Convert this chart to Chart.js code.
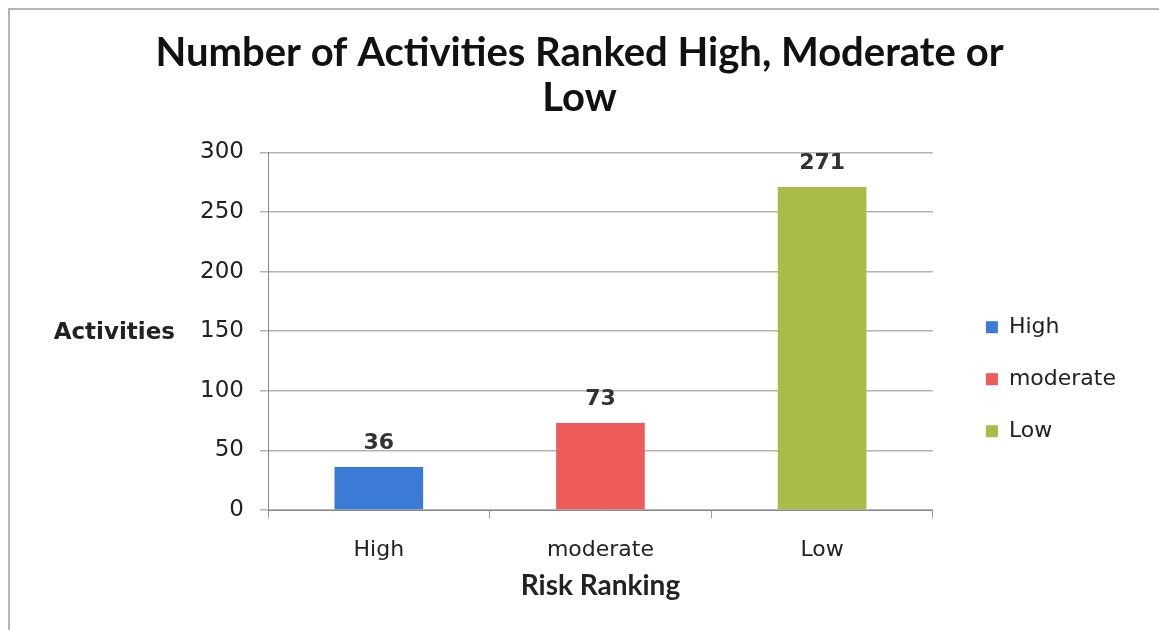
<!DOCTYPE html>
<html>
<head>
<meta charset="utf-8">
<script src="https://cdn.jsdelivr.net/npm/chart.js@4.4.0/dist/chart.umd.min.js"></script>
<style>
  html, body { margin: 0; padding: 0; background: #fff; }
  #wrap { position: relative; width: 1159px; height: 630px; }
  #frame { position: absolute; left: 8px; top: 8px; width: 1160px; height: 640px;
           border-left: 2px solid #b5b5b5; border-top: 2px solid #b5b5b5; pointer-events: none; }
</style>
</head>
<body>
<div id="wrap">
  <canvas id="riskChart" width="1159" height="630"></canvas>
  <div id="frame"></div>
</div>
<script>
// values
const categories = ['High', 'moderate', 'Low'];
const activities = [36, 73, 271];
const barColors = ['#3b7bd6', '#ee5b5b', '#abbb47'];
const yTicks = [0, 50, 100, 150, 200, 250, 300];

// "Activities" is written level, left of the tick numbers
const yLabel = {
  id: 'yLabel',
  afterDraw(chart) {
    const ctx = chart.ctx, area = chart.chartArea;
    ctx.save();
    ctx.font = 'bold 23px "DejaVu Sans"';
    ctx.fillStyle = '#222';
    ctx.textAlign = 'right';
    ctx.textBaseline = 'middle';
    ctx.fillText('Activities', 175, (area.top + area.bottom) / 2 + 2);
    ctx.restore();
  }
};

// number over each bar
const barValues = {
  id: 'barValues',
  afterDatasetsDraw(chart) {
    const ctx = chart.ctx;
    const meta = chart.getDatasetMeta(0);
    ctx.save();
    ctx.font = 'bold 22px "DejaVu Sans"';
    ctx.fillStyle = '#333';
    ctx.textAlign = 'center';
    ctx.textBaseline = 'middle';
    meta.data.forEach((bar, i) => {
      ctx.fillText(String(activities[i]), bar.x, bar.y - 24);
    });
    ctx.restore();
  }
};

// empty side axes, used only as spacers around the legend
const spacer = (w, weight) => ({
  position: 'right',
  display: true,
  weight: weight,
  afterFit(scale) { scale.width = w; },
  grid: { display: false },
  border: { display: false },
  ticks: { display: false }
});

const ctx = document.getElementById('riskChart').getContext('2d');
new Chart(ctx, {
  type: 'bar',
  data: {
    labels: categories,
    datasets: [{
      label: 'Activities',
      data: activities,
      backgroundColor: barColors,
      categoryPercentage: 0.8,
      barPercentage: 0.5
    }]
  },
  options: {
    responsive: false,
    animation: false,
    layout: { padding: { left: 0, right: 0, top: 0, bottom: 24 } },
    plugins: {
      title: {
        display: true,
        text: ['Number of Activities Ranked High, Moderate or', 'Low'],
        font: { family: 'Lato', size: 40, weight: 'bold', lineHeight: 1.13 },
        color: '#111',
        padding: { top: 30, bottom: 32 }
      },
      legend: {
        position: 'right',
        maxWidth: 220,
        onClick: null,
        title: { display: true, text: '', font: { size: 12, lineHeight: 1.2 }, padding: { top: 138, bottom: 0 } },
        labels: {
          boxWidth: 12,
          boxHeight: 12,
          padding: 30,
          color: '#222',
          font: { family: 'DejaVu Sans', size: 22 },
          generateLabels: () => categories.map((c, i) => ({
            text: c, fillStyle: barColors[i], strokeStyle: barColors[i], fontColor: '#222', lineWidth: 0, index: i
          }))
        }
      },
      tooltip: { enabled: false }
    },
    scales: {
      x: {
        afterFit(scale) { scale.height = 96; },
        grid: { display: true, drawOnChartArea: false, tickLength: 8, color: '#999', offset: true },
        border: { color: '#888' },
        ticks: { color: '#222', padding: 19, font: { family: 'DejaVu Sans', size: 22 } },
        title: {
          display: true,
          text: 'Risk Ranking',
          color: '#222',
          font: { family: 'Lato', size: 28, weight: 'bold' },
          padding: { top: 4, bottom: 3 }
        }
      },
      y: {
        min: 0,
        max: 300,
        afterFit(scale) { scale.width = 268; },
        afterBuildTicks(scale) { scale.ticks = yTicks.map(v => ({ value: v })); },
        grid: { color: '#b4b4b4', tickLength: 8, lineWidth: 1.5 },
        border: { color: '#888' },
        ticks: { color: '#222', padding: 16, font: { family: 'DejaVu Sans', size: 23 } }
      },
      gapInner: spacer(23, 0),
      gapOuter: spacer(33, 2000)
    }
  },
  plugins: [yLabel, barValues]
});
</script>
</body>
</html>
